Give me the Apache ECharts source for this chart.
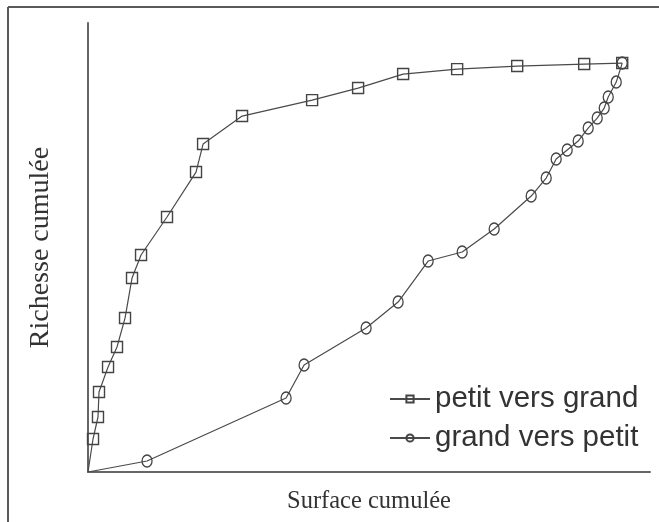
<!DOCTYPE html>
<html>
<head>
<meta charset="utf-8">
<script src="https://cdn.jsdelivr.net/npm/echarts@6/dist/echarts.min.js"></script>
<style>html,body{margin:0;padding:0;background:#fff}#c{width:659px;height:522px}</style>
</head>
<body>
<div id="c"></div>
<script>
const seriesNames = ['petit vers grand', 'grand vers petit'];
const axisTitles = { x: 'Surface cumulée', y: 'Richesse cumulée' };

const petitX = [0, 0.94, 1.87, 2.06, 3.75, 5.43, 6.93, 8.24, 9.93, 14.79, 20.22, 21.54, 28.84, 41.95, 50.56, 58.99, 69.10, 80.34, 92.88, 100];
const petitY = [0, 8.07, 13.45, 19.56, 25.67, 30.56, 37.65, 47.43, 53.06, 62.35, 73.35, 80.20, 87.04, 90.95, 93.89, 97.31, 98.53, 99.27, 99.76, 100];

const grandX = [0, 11.05, 37.08, 40.45, 52.06, 58.05, 63.67, 70.04, 76.03, 82.96, 85.77, 87.64, 89.70, 91.76, 93.63, 95.32, 96.63, 97.38, 98.88, 100];
const grandY = [0, 2.69, 18.09, 26.16, 35.21, 41.56, 51.59, 53.79, 59.41, 67.48, 71.88, 76.53, 78.73, 80.93, 84.11, 86.55, 89.00, 91.69, 95.35, 100];

function build(xs, ys) {
  return xs.map((x, i) => i === 0 ? { value: [x, ys[i]], symbol: 'none' } : [x, ys[i]]);
}

const chart = echarts.init(document.getElementById('c'), null, { renderer: 'canvas' });
const lineCol = '#4a4a4a';
const axisStyle = { show: true, lineStyle: { color: '#666', width: 2 } };
chart.setOption({
  animation: false,
  backgroundColor: '#fff',
  grid: { left: 88, top: 23, width: 562, height: 449, containLabel: false, outerBoundsMode: 'none' },
  xAxis: {
    type: 'value', min: 0, max: 105.2,
    axisLine: axisStyle, axisTick: { show: false }, axisLabel: { show: false }, splitLine: { show: false },
    name: axisTitles.x, nameLocation: 'middle', nameGap: 17,
    nameTextStyle: { fontFamily: 'Liberation Serif', fontSize: 24.5, color: '#333' }
  },
  yAxis: {
    type: 'value', min: 0, max: 109.8,
    axisLine: axisStyle, axisTick: { show: false }, axisLabel: { show: false }, splitLine: { show: false },
    name: axisTitles.y, nameLocation: 'middle', nameGap: 33, nameRotate: 90,
    nameTextStyle: { fontFamily: 'Liberation Serif', fontSize: 28, color: '#333' }
  },
  legend: {
    orient: 'vertical', left: 389, top: 384, padding: 0,
    itemWidth: 40, itemHeight: 9, itemGap: 9,
    textStyle: { fontFamily: 'Liberation Sans', fontSize: 29.5, color: '#333' },
    data: seriesNames
  },
  graphic: [
    { type: 'line', shape: { x1: 8, y1: 7, x2: 659, y2: 7 }, style: { stroke: '#5a5a5a', lineWidth: 2 } },
    { type: 'line', shape: { x1: 8, y1: 7, x2: 8, y2: 522 }, style: { stroke: '#5a5a5a', lineWidth: 2 } }
  ],
  series: [
    {
      name: seriesNames[0], type: 'line', data: build(petitX, petitY),
      symbol: 'rect', symbolSize: 11, showAllSymbol: true,
      lineStyle: { color: lineCol, width: 1.2 },
      itemStyle: { color: 'rgba(255,255,255,0)', borderColor: '#444', borderWidth: 1.4 }
    },
    {
      name: seriesNames[1], type: 'line', data: build(grandX, grandY),
      symbol: 'circle', symbolSize: [10, 12], showAllSymbol: true,
      lineStyle: { color: lineCol, width: 1.2 },
      itemStyle: { color: 'rgba(255,255,255,0)', borderColor: '#444', borderWidth: 1.4 }
    }
  ]
});
</script>
</body>
</html>
